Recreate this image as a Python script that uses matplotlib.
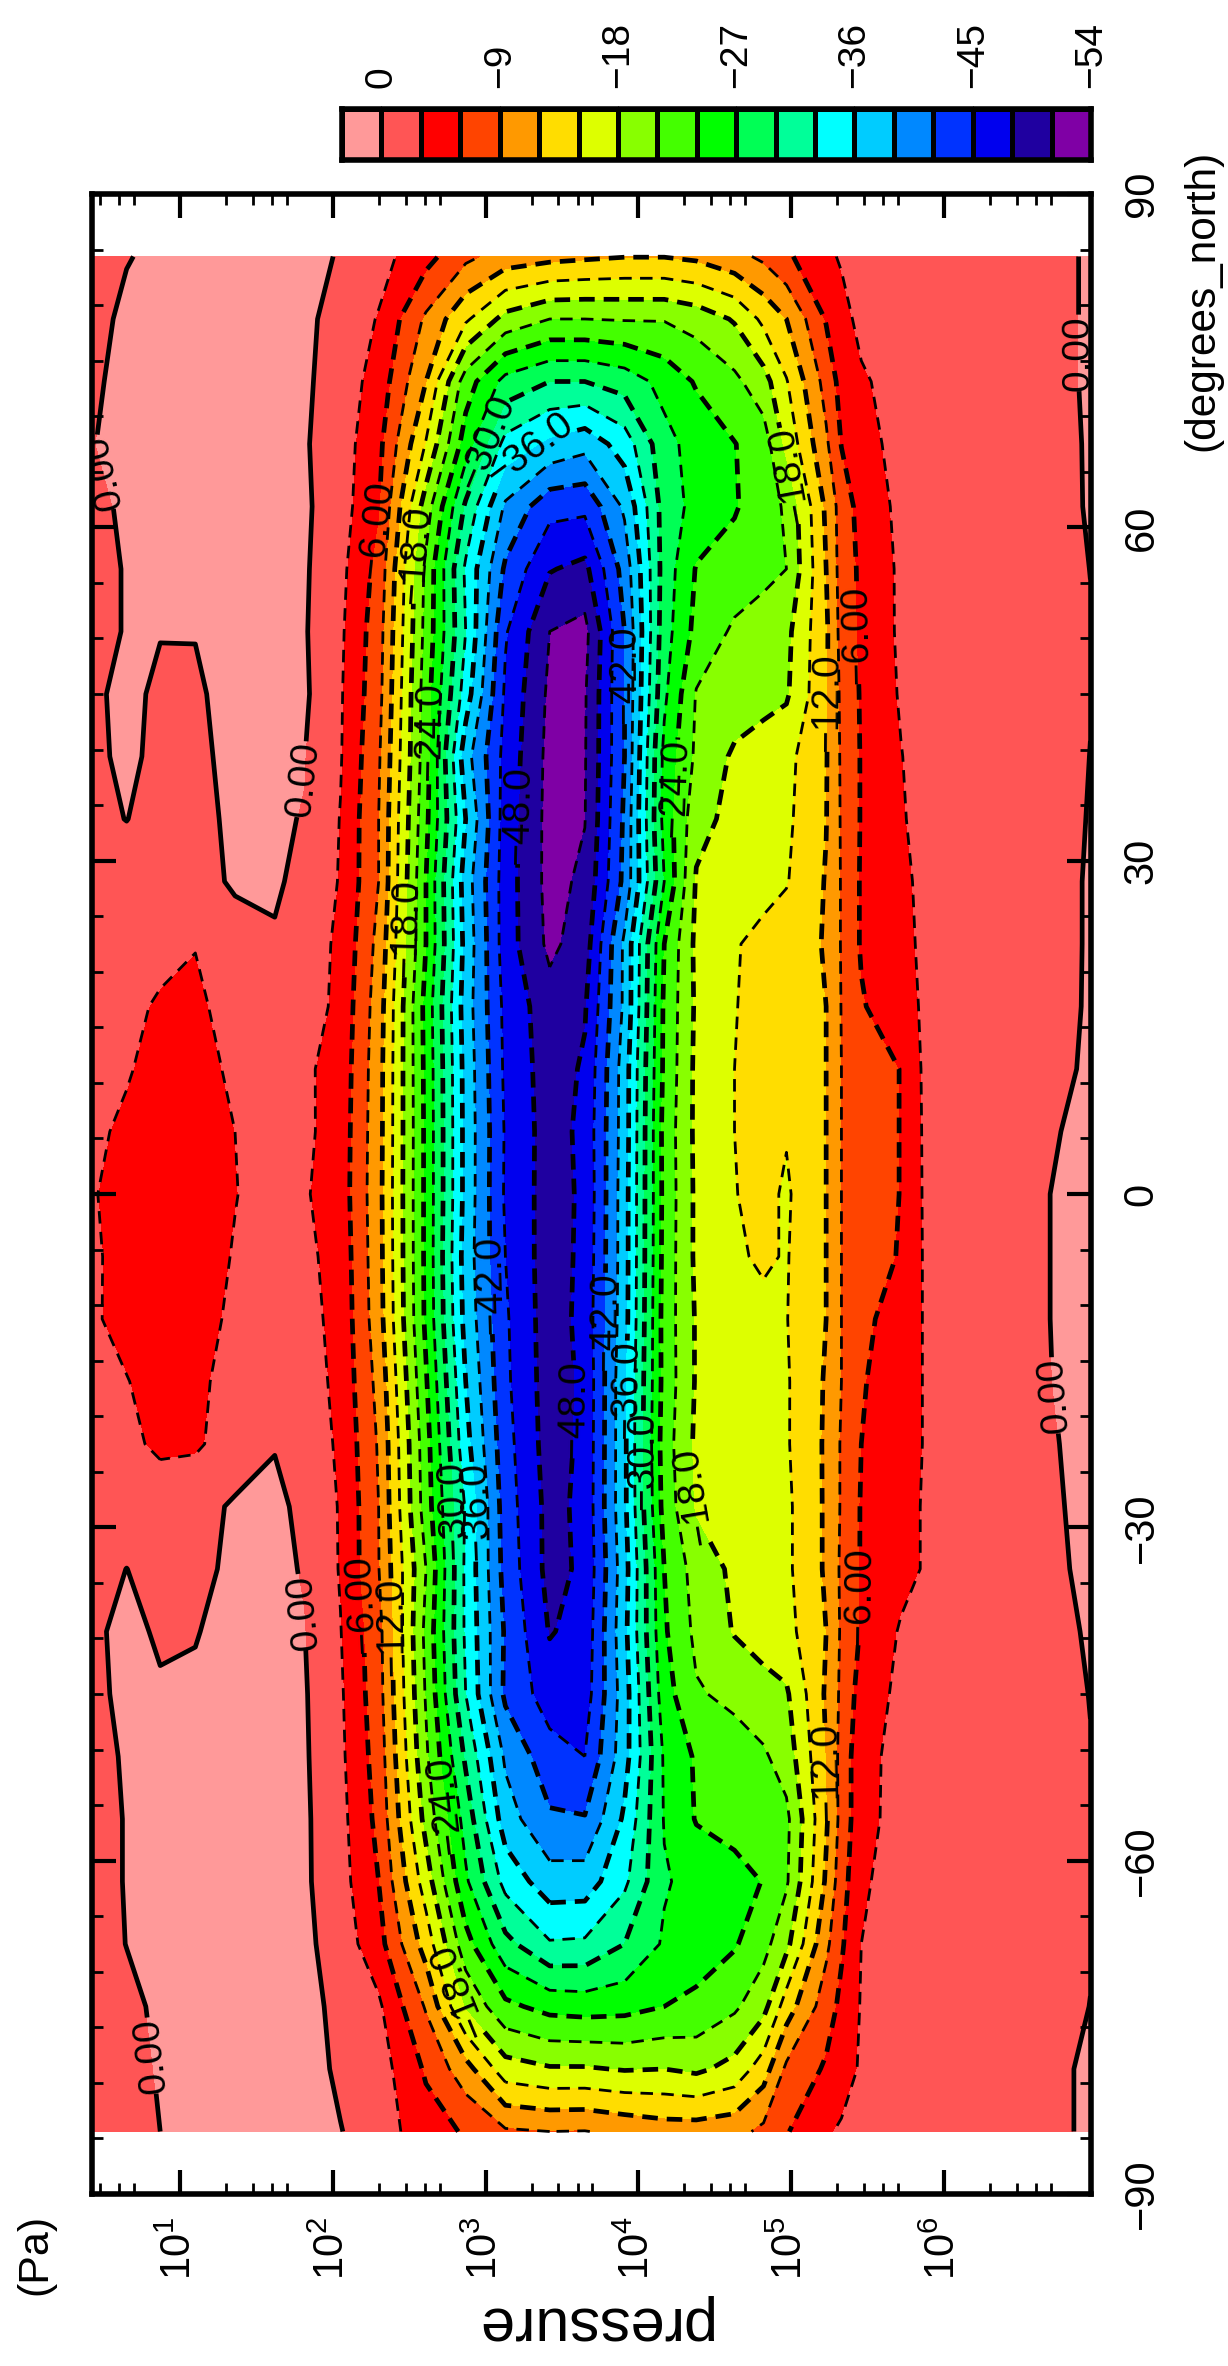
import numpy as np
import matplotlib
matplotlib.use('Agg')
import matplotlib.pyplot as plt
from matplotlib.colors import ListedColormap, BoundaryNorm

plt.rcParams['font.family'] = ['Liberation Sans', 'DejaVu Sans']
plt.rcParams['mathtext.fontset'] = 'custom'
plt.rcParams['mathtext.rm'] = 'Liberation Sans'

W, H = 1228.0, 2366.0

# latitude of each row below, north to south
lats = np.arange(84.375, -85.0, -5.625)
# log10(pressure / Pa) of each column
log_p = np.array([0.43, 0.65, 0.87, 1.10, 1.36, 1.62, 1.81, 2.05, 2.30, 2.61, 2.87, 3.13, 3.42, 3.65,
                  3.91, 4.17, 4.38, 4.63, 4.82, 4.97, 5.23, 5.33, 5.46, 5.72, 5.86, 6.28, 6.69, 6.96])

# values, one row per latitude
field = np.array([
    [-.5, -.05, .2, .5, .8, 1, .8, -.2, -1.9, -5, -8.3, -10.3, -11.1, -11.5, -11.9, -11.9, -11.4, -9.9, -8.4, -6.5, -3.6, -2.7, -1.7, -1.2, -1, -.8, -.25, .1],
    [-.3, .2, .5, .7, .9, 1, .6, -1, -3.2, -9.5, -14.5, -19, -21, -21, -20.8, -20.8, -19.8, -17.7, -14.3, -12, -5.8, -4, -2.2, -1.3, -1.05, -.8, -.25, .1],
    [-.2, .4, .6, .8, .9, 1, .5, -1.4, -4.2, -12, -22.5, -28, -30, -30, -28.7, -26, -23.7, -21.7, -19.2, -15.2, -7.9, -5, -3.4, -1.8, -1.3, -.8, -.25, .1],
    [-.05, .5, .7, .8, .9, .9, .3, -1.6, -5.2, -15.2, -25.5, -34, -36.7, -38, -34.6, -28, -25.8, -24.1, -22.5, -17.2, -9.5, -5.9, -4.1, -2, -1.5, -.8, -.3, .08],
    [-.3, .2, .5, .7, .8, .8, .5, -1.7, -5.8, -19.5, -30.5, -39.5, -44, -44.3, -38.5, -28.7, -26, -24.3, -22.3, -20.6, -11.5, -7.7, -4.9, -2.3, -1.6, -.8, -.35, .08],
    [-.5, .1, .4, .6, .7, .8, .4, -2.2, -7, -21.7, -33.5, -42.5, -47.8, -48.8, -40.8, -28.7, -23.8, -22.7, -21.7, -21, -12, -7.8, -5.4, -2.5, -1.7, -.8, -.4, .01],
    [-.5, .1, .1, .05, .5, .6, .3, -2.5, -7.7, -22, -33, -44.7, -51, -51.9, -42, -28.3, -23.1, -20.5, -19.8, -18.8, -12.5, -8, -5.5, -2.5, -1.7, -.9, -.4, -.05],
    [-.4, .6, -.45, -.2, .5, .6, .5, -2.7, -8, -22.6, -34.5, -45.5, -51.6, -51.3, -42, -27.6, -20.8, -19.7, -19, -18.4, -12.4, -8.4, -5.7, -2.7, -1.8, -.9, -.4, -.03],
    [-.5, .5, -.6, -.4, .5, .4, .1, -2.8, -8.6, -22.7, -37.8, -46, -51.9, -51.2, -42, -26.2, -20.4, -17.5, -16.6, -15.9, -12.2, -8.6, -5.8, -3.1, -1.9, -1, -.4, .01],
    [-.6, .05, -1, -.6, .4, .3, -.1, -3.1, -9, -23.3, -36, -46.4, -52, -51.1, -41.5, -26, -19, -17.1, -16.2, -15.6, -12.1, -8.7, -5.8, -3.3, -2.1, -1, -.4, .05],
    [-1.2, -1.4, -1.6, -1, .36, .4, -.8, -3.2, -9, -24, -37.5, -46.5, -52, -50.4, -41.2, -27, -17.7, -16.6, -15.8, -15.2, -11.8, -8.8, -5.7, -3.7, -2.4, -1.1, -.4, .1],
    [-1.6, -2, -2.5, -2.95, -1.2, -.3, -1.6, -3.5, -9.9, -24, -37, -46.5, -51.7, -49.5, -38.4, -24, -17.3, -15.2, -14.3, -13.4, -11.8, -8.8, -5.7, -3.8, -2.6, -1.2, -.4, .1],
    [-2, -2.6, -3.2, -3.3, -2.4, -1.4, -1.4, -3.8, -10.5, -25, -37.5, -45.8, -49.8, -48.3, -38.4, -23.5, -17.5, -15.1, -14.2, -13.3, -12, -8.9, -6.3, -3.9, -2.8, -1.3, -.35, .1],
    [-2.2, -2.85, -3.6, -3.6, -2.7, -1.8, -2.5, -4.1, -10.8, -24.8, -37.1, -45.6, -49.5, -47.6, -37.5, -23.4, -17.3, -15, -14.1, -13.4, -12, -9, -8, -5.9, -2.8, -1.3, -.3, .15],
    [-2.7, -3.3, -3.9, -3.8, -3, -2.2, -2.4, -4.3, -10.9, -24.7, -37, -45.3, -49.4, -47.2, -37.5, -23, -17.3, -15, -14, -14.8, -12, -9, -8, -5.9, -2.9, -1.3, -.1, .25],
    [-2.9, -3.6, -4.1, -3.9, -3.05, -2.4, -2.7, -4.4, -11, -24.7, -37, -45.4, -49.4, -47.4, -37.3, -23.1, -17.4, -15.1, -14.2, -15.4, -12, -9, -8, -5.9, -2.95, -1.4, -.01, .4],
    [-2.8, -3.5, -4, -3.7, -2.9, -2.2, -2.3, -4.1, -10.9, -24.7, -37.4, -45, -49.6, -47.2, -37.3, -23, -17.4, -15.4, -14.6, -15.2, -12, -9, -8, -5.7, -3, -1.4, -.01, .4],
    [-2.85, -3.4, -3.8, -3.4, -2.8, -2, -2, -3.9, -10.7, -24.6, -37, -44.6, -49.6, -47, -37.2, -22.8, -17.7, -16.3, -15.7, -15.1, -12, -9, -6.6, -4.9, -3, -1.4, -.01, .4],
    [-2.3, -2.95, -3.5, -3.3, -2.5, -1.5, -1.5, -3.8, -9.9, -23.7, -36, -44.4, -49.5, -47.4, -36.6, -22.9, -17.7, -16.5, -15.8, -15.3, -11.7, -9, -6.3, -4.1, -3, -1.4, -.03, .35],
    [-1.8, -2.4, -3.5, -3.4, -1.7, -.2, -1.1, -3.5, -9.3, -22.8, -35, -43.9, -49.4, -47.3, -36.6, -22.5, -17.4, -16.4, -15.8, -15.3, -11.6, -8.7, -6, -3.8, -3, -1.3, -.1, .3],
    [-1.2, -1.3, -1.5, -1, .36, .9, -.9, -3.2, -9, -22.5, -33.3, -43.5, -49, -47.2, -36.6, -22.9, -17.7, -16.5, -16, -15.6, -11.6, -8.7, -5.8, -3.9, -2.9, -1.3, -.15, .25],
    [-.8, .02, -.8, -.5, .4, .7, -.2, -3.2, -8.9, -21, -33.6, -43.1, -49, -47.4, -37.2, -24, -19.7, -17.4, -16.4, -15.6, -11.6, -8.5, -5.8, -3.9, -2.9, -1.2, -.2, .2],
    [-.4, .6, -.3, -.1, .7, .7, .1, -2.9, -8, -21.8, -33.5, -42.4, -48.2, -47, -36.8, -24.4, -20.3, -17.8, -16.5, -16, -12, -8.6, -5.7, -2.7, -2, -1.1, -.3, .1],
    [-.4, .4, .25, .3, .6, .7, .3, -2.6, -7.8, -21.3, -33, -42.6, -46.5, -46.5, -37.4, -25.3, -21.3, -20.3, -19.3, -18.4, -11.6, -8.4, -4.7, -2.3, -1.7, -1, -.35, .02],
    [-.6, .2, .5, .6, .7, .8, .4, -2.4, -7.3, -20.5, -30.5, -39.5, -43.8, -45, -37.2, -26.6, -23.6, -22.4, -21.4, -19.7, -12, -8, -3.9, -2.1, -1.6, -1, -.4, -.03],
    [-.7, .1, .5, .6, .7, .8, .5, -2.1, -6.8, -19, -28.2, -37.6, -41.6, -41.8, -35.5, -26.8, -23.8, -23, -22.3, -21.7, -12.4, -8, -3.9, -2, -1.6, -1, -.4, -.05],
    [-.7, .1, .5, .6, .7, .8, .5, -1.9, -6, -16.5, -26.5, -34, -37.7, -37.6, -33.6, -27.3, -26, -25, -23.9, -21.4, -11.6, -7.3, -3.4, -1.8, -1.4, -1, -.4, -.05],
    [-.7, .03, .5, .7, .8, .9, .7, -1.4, -4.9, -13.3, -22.9, -29.1, -32.7, -32.5, -30, -26.6, -25.5, -24.3, -22, -18.8, -9.7, -6.4, -3, -1.7, -1.3, -.9, -.4, -.05],
    [-1, -.4, .3, .6, .9, 1, 1, -.8, -2.5, -9.3, -18.4, -23.3, -25, -25.3, -25, -24, -23.3, -21.5, -19, -13.5, -7.4, -5.3, -2.8, -1.5, -1.2, -.8, -.3, .01],
    [-1.2, -.6, .15, .6, .9, 1.1, 1.2, -.5, -1.6, -6.4, -10.8, -16.7, -17.7, -17.7, -18.2, -18, -18.6, -17, -13.4, -8.4, -5.6, -4.5, -2.6, -1.4, -1.1, -.8, -.15, .1],
    [-1.3, -.8, 0, .5, .9, 1.1, 1.2, .1, -1.5, -4.7, -6.3, -8.6, -9, -8.9, -9.7, -10.5, -10.5, -10, -8.3, -6.2, -3.4, -2.6, -1.7, -1.2, -.9, -.8, -.15, .1],
])

# colour boxes from the top of the scale downwards
bounds = np.arange(3, -55, -3)
box_colors = ['#FF9999', '#FF5555', '#FF0000', '#FF4400', '#FF9900', '#FFDD00', '#DDFF00',
              '#88FF00', '#44FF00', '#00FF00', '#00FF55', '#00FF99', '#00FFFF', '#00CCFF',
              '#0088FF', '#0033FF', '#0000EE', '#1F00A0', '#7F00A5']
thick_levels = [-48, -42, -36, -30, -24, -18, -12, -6]
thin_levels = [-51, -45, -39, -33, -27, -21, -15, -9, -3]
lat_ticks = [-90, -60, -30, 0, 30, 60, 90]
lat_labels = ['\u221290', '\u221260', '\u221230', '0', '30', '60', '90']
p_exponents = [1, 2, 3, 4, 5, 6]
cbar_ticks = [0, -9, -18, -27, -36, -45, -54]
cbar_labels = ['0', '\u22129', '\u221218', '\u221227', '\u221236', '\u221245', '\u221254']

# label spots as (log10 p, lat)
label_spots = [(2.30, 59.7), (2.485, 57.6), (0.564, 65.2), (3.08, 67.2), (3.37, 65.6), (5.02, 64.7),
               (5.46, 50.3), (5.27, 44.2), (3.92, 46.7), (2.64, 41.6), (4.23, 36.5), (3.21, 34.1),
               (2.51, 23.9), (1.82, 37.3), (1.82, -37.6), (3.04, -8.2), (3.83, -11.5), (3.64, -19.4),
               (3.96, -17.6), (4.07, -24.0), (4.40, -27.2), (2.72, -28.5), (2.93, -28.5), (2.20, -36.9),
               (2.39, -39.0), (5.45, -36.2), (6.74, -18.1), (0.84, -77.5), (6.90, 75.7), (2.77, -55.0),
               (5.26, -52.0), (2.90, -71.4)]


def px_axes(x0, x1, y0, y1):
    return fig.add_axes([x0 / W, 1 - y1 / H, (x1 - x0) / W, (y1 - y0) / H])


def fmt_level(v):
    if v == 0:
        return '0.00'
    if abs(v) < 10:
        return '\u2212%.2f' % abs(v)
    return '\u2212%.1f' % abs(v)


fig = plt.figure(figsize=(W / 100, H / 100), dpi=100)
ax = px_axes(92.4, 1091, 194, 2194)

lat_up = lats[::-1]
z = field[::-1]
ax.contourf(log_p, lat_up, z, levels=bounds[::-1], colors=box_colors[::-1])
ax.contour(log_p, lat_up, z, levels=thin_levels, colors='k', linewidths=2.0,
           linestyles=[(0, (4.5, 3.0))])
cs = ax.contour(log_p, lat_up, z, levels=thick_levels + [0], colors='k', linewidths=3.4,
                linestyles=[(0, (3.3, 1.9))] * 8 + ['solid'])
labels = ax.clabel(cs, fmt=fmt_level, fontsize=28, colors='k', inline=True, inline_spacing=3,
                   manual=label_spots)
# the labels read upwards in the reference
for t in labels:
    if t.get_rotation() > 45 and t.get_rotation() < 135:
        continue
    r = t.get_rotation()
    if r > 180:
        r -= 360
    if r < -45:
        t.set_rotation(r + 180)

ax.set_xlim(0.426, 6.964)
ax.set_ylim(-90, 90)
minor_p = [np.log10(m * 10.0 ** n) for n in range(0, 7) for m in (2, 3, 4, 5) if 0.426 < np.log10(m * 10.0 ** n) < 6.964]
ax.set_xticks(p_exponents, ['$\\mathregular{10^{%d}}$' % n for n in p_exponents], rotation=90)
ax.set_xticks(minor_p, minor=True)
ax.set_yticks(lat_ticks, lat_labels, rotation=90, va='center')
ax.set_yticks(np.arange(-90, 91, 5), minor=True)
ax.tick_params(axis='x', which='both', top=True, bottom=True, direction='in', labelsize=30, pad=16)
ax.tick_params(axis='y', which='both', left=True, right=True, labelleft=False, labelright=True,
               direction='in', labelsize=30, pad=22)
ax.tick_params(which='major', length=17, width=3)
ax.tick_params(which='minor', length=8, width=2)
for s in ax.spines.values():
    s.set_linewidth(4)

fig.text(591.6 / W, 1 - 2323 / H, 'pressure', rotation=180, fontsize=44, ha='center', va='center')
fig.text(35 / W, 1 - 2254 / H, '(Pa)', rotation=90, fontsize=31, ha='center', va='center')
fig.text(1202 / W, 1 - 300 / H, '(degrees_north)', rotation=90, fontsize=30.5, ha='center', va='center')

# colour scale across the top
cax = px_axes(342, 1091, 108.5, 160)
cmap = ListedColormap(box_colors[::-1])
norm = BoundaryNorm(bounds[::-1], cmap.N)
centres = (bounds[:-1] + bounds[1:]) / 2.0
cax.pcolormesh(bounds, [0, 1], [centres], cmap=cmap, norm=norm, edgecolors='k', linewidth=3.6)
cax.set_xlim(3, -54)
cax.set_yticks([])
cax.xaxis.tick_top()
cax.set_xticks(cbar_ticks, cbar_labels, rotation=90)
cax.tick_params(axis='x', length=2, width=0.8, labelsize=28, pad=13)
for s in cax.spines.values():
    s.set_linewidth(4)

fig.savefig('out.png', dpi=100)
